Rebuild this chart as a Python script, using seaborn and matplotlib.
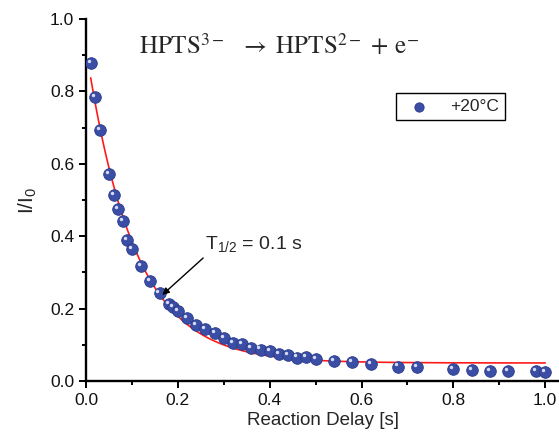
import numpy as np
import pandas as pd
import matplotlib
matplotlib.use("Agg")
import matplotlib.pyplot as plt
import matplotlib.transforms as mtransforms
from matplotlib.ticker import MultipleLocator
import seaborn as sns

# --- data ---
delay_s = [0.01, 0.02, 0.03, 0.05, 0.06, 0.07, 0.08, 0.09, 0.10, 0.12,
           0.14, 0.16, 0.18, 0.19, 0.20, 0.22, 0.24, 0.26, 0.28, 0.30,
           0.32, 0.34, 0.36, 0.38, 0.40, 0.42, 0.44, 0.46, 0.48, 0.50,
           0.54, 0.58, 0.62, 0.68, 0.72, 0.80, 0.84, 0.88, 0.92, 0.98, 1.00]
intensity = [0.878, 0.785, 0.693, 0.572, 0.514, 0.475, 0.442, 0.390, 0.365, 0.318,
             0.276, 0.242, 0.213, 0.205, 0.193, 0.174, 0.155, 0.144, 0.133, 0.120,
             0.105, 0.101, 0.091, 0.087, 0.084, 0.075, 0.071, 0.065, 0.066, 0.060,
             0.055, 0.052, 0.048, 0.040, 0.039, 0.033, 0.031, 0.028, 0.028, 0.027, 0.025]
series_label = "+20°C"

df = pd.DataFrame({"delay": delay_s, "I": intensity})

# exponential decay fit y = y0 + A*exp(-x/tau): grid over tau, linear lstsq for A, y0
x = df["delay"].to_numpy()
y = df["I"].to_numpy()
best = None
for tau in np.linspace(0.03, 0.3, 541):
    M = np.column_stack([np.exp(-x / tau), np.ones_like(x)])
    coef, *_ = np.linalg.lstsq(M, y, rcond=None)
    r = np.sum((M @ coef - y) ** 2)
    if best is None or r < best[0]:
        best = (r, tau, coef)
_, tau, (A, y0) = best
xf = np.linspace(x.min(), x.max(), 300)
fit = pd.DataFrame({"delay": xf, "I": y0 + A * np.exp(-xf / tau)})

# --- plot ---
sns.set_theme(style="ticks")
plt.rcParams["font.family"] = ["Liberation Sans", "DejaVu Sans"]
plt.rcParams["mathtext.fontset"] = "custom"
plt.rcParams["mathtext.rm"] = "Liberation Sans"
plt.rcParams["mathtext.it"] = "Liberation Sans:italic"

fig = plt.figure(figsize=(5.59, 4.34), dpi=100)
ax = fig.add_axes([0.154, 0.122, 0.846, 0.834])

sns.lineplot(data=fit, x="delay", y="I", color="#ff1a1a", lw=1.2, ax=ax, zorder=2)
sns.scatterplot(data=df, x="delay", y="I", color="#3b4ea6", edgecolor="#2a3a8a",
                linewidth=0.6, s=70, ax=ax, zorder=3, label=series_label)
# small highlight on each ball
hl = mtransforms.offset_copy(ax.transData, fig=fig, x=-1.5, y=1.5, units="points")
ax.scatter(df["delay"], df["I"], s=6, color="#d8dcf2", linewidth=0, transform=hl, zorder=4)

ax.set_xlim(0, 1.03)
ax.set_ylim(0, 1.0)
ax.xaxis.set_minor_locator(MultipleLocator(0.1))
ax.yaxis.set_major_locator(MultipleLocator(0.2))
ax.yaxis.set_minor_locator(MultipleLocator(0.1))
ax.set_xticks([0, 0.2, 0.4, 0.6, 0.8, 1.0])
ax.tick_params(which="major", length=5, width=1.4, labelsize=12.5, color="black",
               labelcolor="#111111", direction="out")
ax.tick_params(which="minor", length=3, width=1.4, color="black", direction="out")
for s in ["left", "bottom"]:
    ax.spines[s].set_linewidth(1.7)
    ax.spines[s].set_color("black")
sns.despine(ax=ax)

ax.set_xlabel("Reaction Delay [s]", fontsize=13.5, labelpad=3)
ax.set_ylabel("I/I$_0$", fontsize=15, labelpad=8)

ax.text(0.115, 0.925, r"$\mathrm{HPTS}^{3-}\ \ \rightarrow\ \mathrm{HPTS}^{2-}\,+\,\mathrm{e}^{-}$",
        fontsize=18, math_fontfamily="stix", va="center", ha="left")

ax.text(0.258, 0.378, "T$_{1/2}$ = 0.1 s", fontsize=14, va="center", ha="left")
ax.annotate("", xy=(0.166, 0.238), xytext=(0.255, 0.34),
            arrowprops=dict(arrowstyle="-|>", color="black", lw=1.0,
                            shrinkA=0, shrinkB=0, mutation_scale=10))

leg = ax.legend(loc="upper right", bbox_to_anchor=(0.905, 0.82), fontsize=12.5,
                frameon=True, fancybox=False, edgecolor="black", framealpha=1,
                handletextpad=0.8, borderpad=0.35, markerscale=0.8)
leg.get_frame().set_linewidth(1.0)

fig.savefig("out.png", dpi=100)
